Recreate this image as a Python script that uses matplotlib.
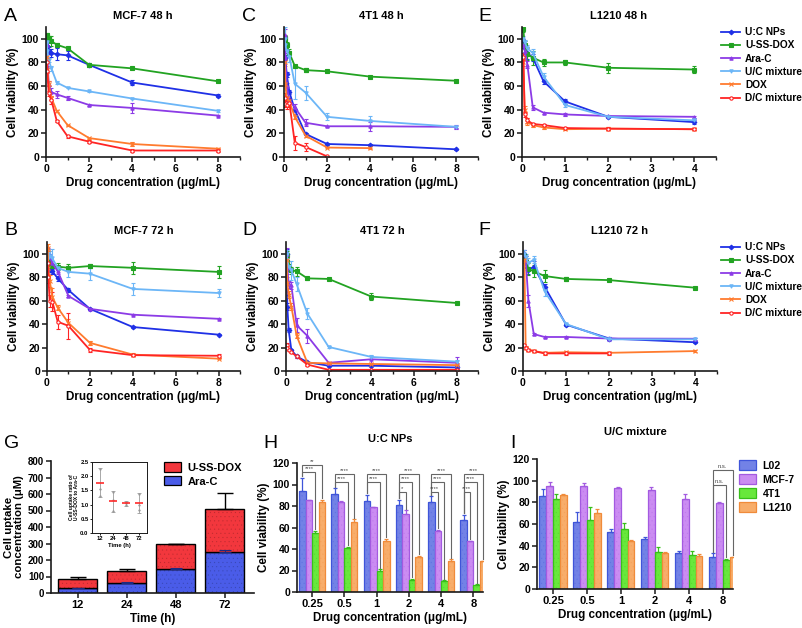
import numpy as np
import matplotlib
matplotlib.use('Agg')
import matplotlib.pyplot as plt
from matplotlib.patches import Patch

plt.rcParams['font.family'] = ['Liberation Sans', 'DejaVu Sans']
plt.rcParams['font.weight'] = 'bold'
plt.rcParams['axes.labelweight'] = 'bold'
plt.rcParams['axes.titleweight'] = 'bold'
plt.rcParams['hatch.linewidth'] = 0.35

nan = np.nan

# ---------------- viability curves ----------------
conc8 = [0.03125, 0.0625, 0.125, 0.25, 0.5, 1, 2, 4, 8]
conc4 = [0.03125, 0.0625, 0.125, 0.25, 0.5, 1, 2, 4]
names = ['U:C NPs', 'U-SS-DOX', 'Ara-C', 'U/C mixture', 'DOX', 'D/C mixture']

# A  MCF-7 48 h
a_uc = [98, 94, 90, 88, 87, 86, 78, 63, 52]
a_ss = [103, 102, 101, 98, 95, 92, 78, 75, 64]
a_ara = [95, 85, 62, 55, 53, 50, 44, 41.5, 35]
a_ucm = [97, 90, 82, 75, 63, 58.5, 55.5, 49.5, 39]
a_dox = [85, 74, 62, 50, 39, 27, 16, 11, 7]
a_dc = [80, 73, 54, 48, 30.5, 17.5, 13, 5.5, 5.5]
a_uc_e = [3, 4, 3, 3, 5, 4, 1.5, 2, 1.5]
a_ss_e = [2, 1, 1, 4, 1.5, 1, 1, 0.5, 0.5]
a_ara_e = [2, 2, 2, 3, 3, 1.5, 0.5, 4, 0.5]
a_ucm_e = [2, 2, 2, 2, 1, 0.5, 0.5, 0.5, 0.5]
a_dox_e = [3, 2, 2, 2, 1, 0.5, 0.5, 2, 0.5]
a_dc_e = [3, 2, 2, 3, 1, 1, 1, 1.5, 1]

# C  4T1 48 h
c_uc = [95, 84, 70, 55, 40, 19.5, 11, 10, 6.5]
c_ss = [101, 100, 95, 88, 77, 73.5, 72.5, 68, 64.5]
c_ara = [103, 85, 60, 48, 42, 29, 26, 26, 25.5]
c_ucm = [100, 95, 90, 85, 62, 54.5, 34, 30.5, 25.5]
c_dox = [80, 62, 50, 47, 34, 18, 8, 7.5, nan]
c_dc = [50, 45, 44, 46, 12, 8.5, 0.5, nan, nan]
c_uc_e = [3, 2, 2, 2, 1, 1, 1, 1, 0.5]
c_ss_e = [2, 2, 2, 3, 1, 1.5, 0.5, 0.5, 0.5]
c_ara_e = [5, 3, 3, 2, 3, 3, 0.5, 4, 2]
c_ucm_e = [10, 5, 5, 5, 13, 6, 3, 4, 1]
c_dox_e = [3, 2, 2, 2, 2, 1, 0.5, 0.5, nan]
c_dc_e = [4, 3, 3, 4, 6, 3, 0.5, nan, nan]

# E  L1210 48 h
e_uc = [98, 92, 88, 84, 64, 47, 34, 29.5]
e_ss = [108, 95, 87, 84, 80, 80, 75.5, 74]
e_ara = [95, 90, 78, 42, 37.5, 36, 34.7, 34]
e_ucm = [100, 97, 92, 88, 68, 44, 34, 31]
e_dox = [80, 40, 30, 27, 25, 23.5, 24, 23.5]
e_dc = [85, 36, 31, 28, 27, 24.5, 24, 23.5]
e_uc_e = [2, 3, 5, 3, 2, 2, 1, 1.5]
e_ss_e = [2, 3, 5, 6, 3, 2, 4, 3]
e_ara_e = [3, 3, 3, 2, 1, 1, 1, 1]
e_ucm_e = [2, 2, 3, 3, 3, 2, 1, 1]
e_dox_e = [3, 3, 3, 2, 1, 1, 1, 1]
e_dc_e = [3, 2, 2, 1, 1, 1, 1, 1]

# B  MCF-7 72 h
b_uc = [99, 88, 86, 85, 79, 69, 53, 37.5, 31]
b_ss = [97, 94, 90, 89.5, 89, 88, 89.5, 88, 84.5]
b_ara = [100, 99, 97, 92, 85, 64, 53, 48, 44.5]
b_ucm = [100, 96, 98, 96, 88, 84.5, 83, 70, 66.5]
b_dox = [105, 88, 77, 63, 54, 41, 24, 14, 10.5]
b_dc = [92, 80, 60, 59, 42, 38.5, 18, 13.5, 13]
b_uc_e = [2, 2, 2, 2, 2, 1.5, 1, 0.5, 0.5]
b_ss_e = [3, 2, 2, 2, 3, 3, 2, 5, 5]
b_ara_e = [5, 5, 3, 2, 2, 1, 0.5, 0.5, 0.5]
b_ucm_e = [3, 3, 4, 8, 2, 4, 5, 5, 3]
b_dox_e = [3, 5, 5, 8, 2, 3, 2, 1, 0.5]
b_dc_e = [5, 5, 5, 8, 6, 11, 2, 1, 1.5]

# D  4T1 72 h
d_uc = [100, 55, 35, 18, 12.5, 7.5, 4.5, 4.5, 3]
d_ss = [99, 93, 88, 86, 85, 79, 78.5, 63.5, 58]
d_ara = [100, 88, 74, 73, 39, 30, 7, 10, 7]
d_ucm = [100, 95, 89, 86, 74, 49, 20.5, 12, 8]
d_dox = [95, 75, 65, 55, 30, 7, 6.5, 6, 5]
d_dc = [22, 20, 18, 16, 12.5, 5.5, 1, 1, 1]
d_uc_e = [4, 3, 2, 1, 1, 1, 0.5, 0.5, 0.5]
d_ss_e = [3, 5, 3, 3, 4, 1.5, 1, 3, 1]
d_ara_e = [5, 5, 3, 3, 6, 6, 1, 3, 5]
d_ucm_e = [3, 3, 5, 8, 6, 5, 1, 2, 1]
d_dox_e = [5, 5, 3, 3, 2, 1, 0.5, 0.5, 0.5]
d_dc_e = [2, 1, 1, 1, 1, 1, 0.5, 0.5, 0.5]

# F  L1210 72 h
f_uc = [100, 92, 86, 89, 72, 39.5, 27.7, 24.5]
f_ss = [98, 93, 87, 85, 81, 78.5, 77.5, 71]
f_ara = [100, 95, 60, 31.5, 29, 29, 27.7, 27.5]
f_ucm = [100, 97, 92, 95, 68, 40, 27, 27]
f_dox = [95, 20, 18, 17, 15.5, 16, 15.5, 17]
f_dc = [22, 19.5, 18, 17, 15, 15, 15, nan]
f_uc_e = [3, 3, 3, 5, 2, 1, 1, 1]
f_ss_e = [3, 5, 5, 5, 5, 1.5, 1, 1]
f_ara_e = [3, 3, 5, 1, 1, 1, 1, 1]
f_ucm_e = [3, 3, 4, 3, 4, 1, 1, 1]
f_dox_e = [3, 1, 1, 1, 1, 1, 1, 1]
f_dc_e = [1, 1, 1, 1, 1, 1, 1, nan]

# ---------------- G: uptake ----------------
g_times = ['12', '24', '48', '72']
g_ara = [30, 60, 145, 248]
g_dox = [57, 71, 149, 263]
g_ara_e = [3, 5, 5, 12]
g_tot_e = [10, 17, 6, 97]
ratio_mean = [1.75, 1.12, 1.05, 1.05]
ratio_lo = [1.27, 0.75, 0.95, 0.72]
ratio_hi = [2.28, 1.47, 1.12, 1.40]
ratio_pts = [[2.27, 1.55, 1.30], [1.45, 1.15, 0.76], [1.10, 1.05, 0.97], [1.38, 0.97, 0.80]]

# ---------------- H / I: cell-line bars ----------------
bar_conc = ['0.25', '0.5', '1', '2', '4', '8']
lines_names = ['L02', 'MCF-7', '4T1', 'L1210']
h_l02 = [94, 91.5, 84.5, 81, 84, 67]
h_mcf = [85.5, 84, 79, 73, 56.5, 47]
h_4t1 = [55, 40.5, 20, 11.5, 10.5, 6.5]
h_l1210 = [83.5, 65.5, 47.5, 33, 29, 28.5]
h_l02_e = [12, 5, 6, 5, 5, 5]
h_mcf_e = [0.5, 0.5, 0.5, 3, 1.5, 0.5]
h_4t1_e = [2, 1.5, 1, 1, 0.5, 0.5]
h_l1210_e = [2, 2, 2, 0.5, 1.5, 0.5]
# significance brackets: group, compared bar (vs L02), height, label
h_sig_group = [0, 0, 1, 1, 2, 2, 3, 3, 3, 4, 4, 4, 5, 5, 5]
h_sig_bar = [3, 2, 3, 2, 3, 2, 3, 2, 1, 3, 2, 1, 3, 2, 1]
h_sig_y = [118.5, 111.5, 110, 102, 110, 102, 110, 102, 93, 110, 102, 93, 110, 102, 93]
h_sig_txt = ['**', '****', '****', '****', '****', '****', '****', '****', '*',
             '****', '****', '****', '****', '****', '****']

i_l02 = [86, 62, 52.5, 46, 33.5, 30]
i_mcf = [95, 95, 93, 91.5, 83.5, 79]
i_4t1 = [83, 63.5, 55, 34.5, 31, 26.5]
i_l1210 = [86.5, 70, 44, 33, 30.5, 29.5]
i_l02_e = [6, 9, 3, 2, 2, 3]
i_mcf_e = [4, 3, 1, 3, 4.5, 1.5]
i_4t1_e = [4.5, 12.5, 6, 4, 3.8, 1.2]
i_l1210_e = [1.5, 3.5, 1, 1, 2, 0.5]
i_sig_group = [5, 5]
i_sig_bar = [3, 2]
i_sig_y = [110, 96]
i_sig_txt = ['n.s.', 'n.s.']

# ---------------- styles ----------------
colors = ['#1f30e6', '#22a322', '#8c3be6', '#6cb6f7', '#ff7b2e', '#ff2424']
markers = ['D', 's', '^', 'v', 'x', 'o']
bar_faces = ['#7282e6', '#cb8cf2', '#68e83c', '#f8ad6a']
bar_edges = ['#3f55d9', '#a35ae0', '#38c01a', '#f08b3a']
axis_col = '#1a1a1a'

W, H = 802, 628
fig = plt.figure(figsize=(W / 100, H / 100), dpi=100)


def px_axes(l, t, r, b):
    return fig.add_axes([l / W, 1 - b / H, (r - l) / W, (b - t) / H])


def clean(ax, size=7.5):
    ax.spines['top'].set_visible(False)
    ax.spines['right'].set_visible(False)
    for s in ('left', 'bottom'):
        ax.spines[s].set_linewidth(1.2)
        ax.spines[s].set_color(axis_col)
    ax.tick_params(which='major', length=3.5, width=1.1, labelsize=size, pad=1.5, color=axis_col)
    ax.tick_params(which='minor', length=2, width=1.0, color=axis_col)


def viability(box, x, ys, errs, xmax, title, legend_at=None):
    ax = px_axes(*box)
    for y, e, nm, c, m in zip(ys, errs, names, colors, markers):
        ax.errorbar(x, y, yerr=e, color=c, lw=1.3, marker=m, ms=2.4,
                    mfc='white' if m == 'o' else c, mec=c, mew=0.8,
                    capsize=1.6, elinewidth=0.8, capthick=0.8, label=nm)
    ax.set_xlim(0, xmax)
    ax.set_ylim(0, 110)
    ax.set_yticks(range(0, 101, 20))
    step = 2 if xmax > 5 else 1
    ax.set_xticks(np.arange(0, xmax, step))
    ax.set_xticks(np.arange(step / 2, xmax + 0.01, step), minor=True)
    clean(ax)
    ax.set_xlabel('Drug concentration (μg/mL)', fontsize=8.4, labelpad=2)
    ax.set_ylabel('Cell viability (%)', fontsize=8.4, labelpad=2)
    ax.set_title(title, fontsize=8, pad=6)
    if legend_at:
        hs, ls = ax.get_legend_handles_labels()
        ax.legend([h[0] for h in hs], ls, loc='upper left',
                  bbox_to_anchor=(legend_at[0] / W, 1 - legend_at[1] / H),
                  bbox_transform=fig.transFigure, frameon=False, fontsize=7.3,
                  handlelength=1.9, handletextpad=0.45, labelspacing=0.32, borderaxespad=0)
    return ax


viability((46, 27, 240, 157), conc8, [a_uc, a_ss, a_ara, a_ucm, a_dox, a_dc],
          [a_uc_e, a_ss_e, a_ara_e, a_ucm_e, a_dox_e, a_dc_e], 9, 'MCF-7 48 h')
viability((284, 27, 478, 157), conc8, [c_uc, c_ss, c_ara, c_ucm, c_dox, c_dc],
          [c_uc_e, c_ss_e, c_ara_e, c_ucm_e, c_dox_e, c_dc_e], 9, '4T1 48 h')
viability((522, 27, 716, 157), conc4, [e_uc, e_ss, e_ara, e_ucm, e_dox, e_dc],
          [e_uc_e, e_ss_e, e_ara_e, e_ucm_e, e_dox_e, e_dc_e], 4.5, 'L1210 48 h', (717, 23))
viability((47, 242, 240, 371), conc8, [b_uc, b_ss, b_ara, b_ucm, b_dox, b_dc],
          [b_uc_e, b_ss_e, b_ara_e, b_ucm_e, b_dox_e, b_dc_e], 9, 'MCF-7 72 h')
viability((286, 242, 478, 371), conc8, [d_uc, d_ss, d_ara, d_ucm, d_dox, d_dc],
          [d_uc_e, d_ss_e, d_ara_e, d_ucm_e, d_dox_e, d_dc_e], 9, '4T1 72 h')
viability((523, 242, 717, 371), conc4, [f_uc, f_ss, f_ara, f_ucm, f_dox, f_dc],
          [f_uc_e, f_ss_e, f_ara_e, f_ucm_e, f_dox_e, f_dc_e], 4.5, 'L1210 72 h', (717, 238))


def tex_bar(ax, x, h, w, face, edge, bottom=0, lw=0.9, dots=(0, 0, 0, 0.15)):
    ax.bar(x, h, w, bottom=bottom, color=face, edgecolor=dots, hatch='....', linewidth=0)
    ax.bar(x, h, w, bottom=bottom, fill=False, edgecolor=edge, linewidth=lw)


# ---------------- G ----------------
gx = np.arange(len(g_times))
ax = px_axes(51, 461, 254, 593)
g_top = np.array(g_ara) + np.array(g_dox)
ax.errorbar(gx, g_top, yerr=[np.zeros(4), g_tot_e], fmt='none', ecolor='black',
            elinewidth=1.0, capsize=6, capthick=1.0)
tex_bar(ax, gx, g_ara, 0.8, '#4a5ce8', 'black', lw=1.0)
tex_bar(ax, gx, g_dox, 0.8, '#f2373d', 'black', bottom=g_ara, lw=1.0)
ax.errorbar(gx, g_ara, yerr=[np.zeros(4), g_ara_e], fmt='none', ecolor='#1e2a80',
            elinewidth=0.8, capsize=4, capthick=0.8)
ax.set_xlim(-0.55, 3.6)
ax.set_ylim(0, 800)
ax.set_yticks(range(0, 801, 100))
ax.set_xticks(gx)
ax.set_xticklabels(g_times)
clean(ax, size=7)
ax.tick_params(axis='x', labelsize=8)
ax.set_xlabel('Time (h)', fontsize=8.4, labelpad=2)
ax.set_ylabel('Cell uptake\nconcentration (μM)', fontsize=8.2, linespacing=1.0)
ax.yaxis.set_label_coords(-0.135, 0.5)
ax.legend(handles=[Patch(facecolor='#f2373d', edgecolor='black', lw=0.9, label='U-SS-DOX'),
                   Patch(facecolor='#4a5ce8', edgecolor='black', lw=0.9, label='Ara-C')],
          loc='upper left', bbox_to_anchor=(160 / W, 1 - 458 / H), bbox_transform=fig.transFigure,
          frameon=False, fontsize=8, handlelength=1.5, handleheight=0.9,
          handletextpad=0.6, labelspacing=0.3, borderaxespad=0)

ins = px_axes(92, 462, 147, 533)
for k in range(4):
    ins.plot([k] * 3, ratio_pts[k], 'o', color='#8a8a8a', ms=1.6, mew=0)
ins.errorbar(gx, ratio_mean,
             yerr=[np.array(ratio_mean) - np.array(ratio_lo), np.array(ratio_hi) - np.array(ratio_mean)],
             fmt='none', ecolor='#9a9a9a', elinewidth=0.6, capsize=1.5, capthick=0.6)
ins.hlines(ratio_mean, gx - 0.28, gx + 0.28, color='#ff2a2a', lw=1.2)
ins.set_xlim(-0.6, 3.6)
ins.set_ylim(0, 2.5)
ins.set_yticks([0, 0.5, 1.0, 1.5, 2.0, 2.5])
ins.set_yticklabels(['0.0', '0.5', '1.0', '1.5', '2.0', '2.5'])
ins.set_xticks(gx)
ins.set_xticklabels(g_times)
for s in ins.spines.values():
    s.set_linewidth(0.7)
    s.set_color(axis_col)
ins.tick_params(length=1.5, width=0.6, labelsize=4.2, pad=1)
ins.set_xlabel('Time (h)', fontsize=4.2, labelpad=1)
ins.set_ylabel('Cell uptake ratio of\nU-SS-DOX to Ara-C', fontsize=3.6, labelpad=1, linespacing=1.0)


# ---------------- H / I ----------------
offs = [-0.3, -0.1, 0.1, 0.3]
bx = np.arange(len(bar_conc))


def cell_bars(box, vals, errs, title, pad, sig):
    ax = px_axes(*box)
    for v, e, o, fc, ec in zip(vals, errs, offs, bar_faces, bar_edges):
        ax.errorbar(bx + o, v, yerr=[np.zeros(6), e], fmt='none', ecolor=ec,
                    elinewidth=0.9, capsize=1.5, capthick=0.9)
        tex_bar(ax, bx + o, v, 0.2, fc, ec, dots=ec + '40')
    groups, bars, ys, txts = sig
    for g, b, y, t in zip(groups, bars, ys, txts):
        x1, x2 = g + offs[0], g + offs[b]
        y1 = vals[0][g] + errs[0][g] + 1.5
        y2 = vals[b][g] + errs[b][g] + 1.5
        ax.plot([x1, x1, x2, x2], [y1, y, y, y2], color='#666666', lw=0.8,
                clip_on=False, solid_joinstyle='miter')
        ax.text((x1 + x2) / 2, y + 0.8, t, ha='center', va='bottom', fontsize=4.2,
                color='#444444', fontweight='normal')
    ax.set_xlim(-0.47, 5.3)
    ax.set_ylim(0, 120)
    ax.set_yticks(range(0, 121, 20))
    ax.set_xticks(bx)
    ax.set_xticklabels(bar_conc)
    clean(ax)
    ax.tick_params(axis='x', labelsize=8)
    ax.set_xlabel('Drug concentration (μg/mL)', fontsize=8.4, labelpad=2)
    ax.set_ylabel('Cell viability (%)', fontsize=8.4, labelpad=2)
    ax.set_title(title, fontsize=8, pad=pad)
    return ax


cell_bars((297, 463, 483, 592), [h_l02, h_mcf, h_4t1, h_l1210],
          [h_l02_e, h_mcf_e, h_4t1_e, h_l1210_e], 'U:C NPs', 15,
          (h_sig_group, h_sig_bar, h_sig_y, h_sig_txt))
ax_i = cell_bars((537, 459, 733, 589), [i_l02, i_mcf, i_4t1, i_l1210],
                 [i_l02_e, i_mcf_e, i_4t1_e, i_l1210_e], 'U/C mixture', 17,
                 (i_sig_group, i_sig_bar, i_sig_y, i_sig_txt))
ax_i.legend(handles=[Patch(facecolor=fc, edgecolor=ec, lw=0.9, label=nm)
                     for fc, ec, nm in zip(bar_faces, bar_edges, lines_names)],
            loc='upper left', bbox_to_anchor=(735 / W, 1 - 456 / H), bbox_transform=fig.transFigure,
            frameon=False, fontsize=7.6, handlelength=1.6, handleheight=1.0,
            handletextpad=0.6, labelspacing=0.35, borderaxespad=0)

# panel letters
for lab, x, y in [('A', 4, 21), ('C', 242, 21), ('E', 478, 21),
                  ('B', 4, 235), ('D', 242, 235), ('F', 478, 235),
                  ('G', 4, 448), ('H', 263, 448), ('I', 510, 448)]:
    fig.text(x / W, 1 - y / H, lab, fontsize=14, fontweight='normal', va='baseline', ha='left')

fig.savefig('out.png', dpi=100)
